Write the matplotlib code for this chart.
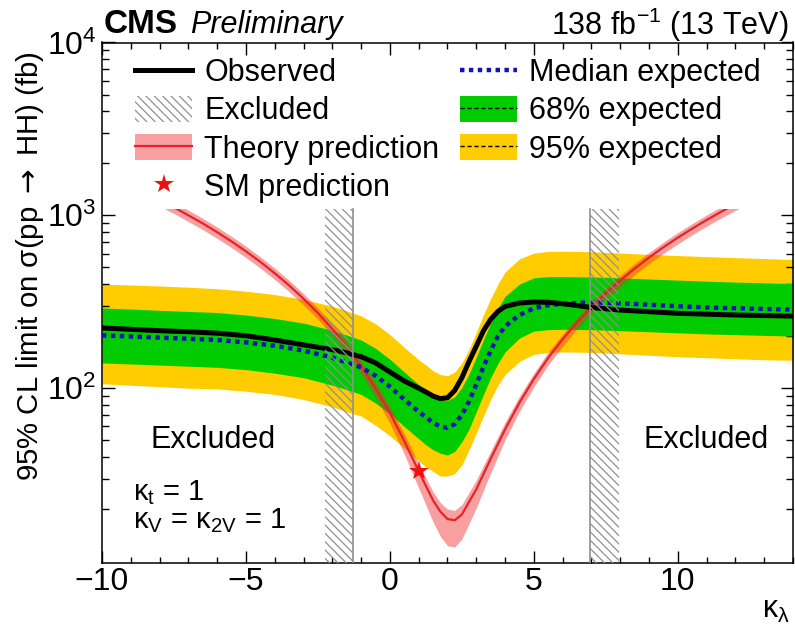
import numpy as np
import matplotlib
matplotlib.use('Agg')
import matplotlib.pyplot as plt
from matplotlib.patches import Patch, Rectangle
from matplotlib.lines import Line2D
from matplotlib.ticker import FixedLocator, NullFormatter, LogFormatterMathtext, MultipleLocator

plt.rcParams['font.family'] = ['Liberation Sans', 'DejaVu Sans']
plt.rcParams['mathtext.fontset'] = 'custom'
plt.rcParams['mathtext.rm'] = 'Liberation Sans'
plt.rcParams['mathtext.it'] = 'Liberation Sans:italic'
plt.rcParams['mathtext.bf'] = 'Liberation Sans:bold'
plt.rcParams['mathtext.sf'] = 'DejaVu Sans'
plt.rcParams['hatch.linewidth'] = 0.9
plt.rcParams['axes.unicode_minus'] = True

# ---------------- data ----------------
kl = [-10, -9, -8, -7, -6, -5, -4, -3, -2, -1.5, -1, -0.5, 0, 0.5, 1, 1.25, 1.5, 1.75,
      2, 2.25, 2.5, 2.75, 3, 3.25, 3.5, 3.75, 4, 4.5, 5, 5.5, 6, 7, 8, 9, 10, 11, 12, 13, 14]
obs = [223, 219, 215, 212, 208, 201, 190, 178, 167, 160, 152, 140, 124, 110, 100, 95, 90, 87,
       88, 97, 115, 143, 175, 215, 250, 278, 297, 311, 315, 314, 308, 293, 283, 277, 271, 268, 265, 263, 261]
exp_med = [202, 199, 196, 193, 190, 184, 176, 165, 150, 141, 132, 118, 102, 86, 73, 68, 63, 60,
           59, 62, 70, 84, 105, 133, 165, 200, 228, 265, 290, 302, 308, 314, 310, 304, 298, 293, 290, 287, 285]
exp_p1 = [291, 287, 282, 278, 274, 265, 253, 238, 216, 203, 190, 170, 147, 124, 105, 98, 91, 86,
          85, 89, 101, 121, 151, 191, 238, 290, 340, 400, 435, 442, 442, 440, 435, 428, 422, 416, 411, 407, 403]
exp_m1 = [140, 138, 136, 134, 132, 128, 122, 115, 104, 98, 92, 82, 71, 60, 51, 47, 44, 42,
          41, 43, 49, 58, 73, 92, 115, 139, 162, 195, 214, 218, 219, 218, 215, 212, 209, 206, 204, 202, 200]
exp_p2 = [400, 395, 390, 384, 376, 364, 348, 326, 298, 280, 262, 236, 204, 172, 146, 136, 126, 120,
          118, 124, 140, 168, 210, 266, 330, 400, 470, 560, 605, 618, 620, 616, 605, 594, 585, 577, 569, 562, 555]
exp_m2 = [106, 104, 102, 100, 99, 96, 92, 86, 78, 73, 69, 61, 53, 45, 38, 35, 33, 31,
          31, 32, 36, 44, 55, 69, 86, 104, 120, 143, 157, 161, 162, 161, 158, 155, 152, 150, 148, 146, 145]

kl_th = [-8, -7.5, -7, -6.5, -6, -5.5, -5, -4.5, -4, -3.5, -3, -2.5, -2, -1.5, -1, -0.5, 0, 0.5,
         1, 1.5, 1.75, 2, 2.25, 2.5, 3, 3.5, 4, 4.5, 5, 5.5, 6, 6.5, 7, 7.5, 8, 8.5, 9, 9.5,
         10, 10.5, 11, 11.5, 12, 12.5]
theory = [1230, 1113, 1000, 898, 799, 706, 619, 538, 462, 393, 329, 272, 220, 174, 134, 100, 72, 49.4,
          33.0, 22.4, 19.3, 17.5, 17.2, 18.6, 26.0, 39.0, 57.8, 82.5, 113, 150, 192, 240, 294, 355, 420, 492, 570, 654,
          743, 838, 940, 1047, 1160, 1279]
theory_up_pct = [7, 7, 7, 7, 7, 7, 7, 7, 7, 7, 7, 7, 7, 7, 7, 8, 9, 10,
                 11, 12, 13, 14, 14, 14, 13, 11, 10, 9, 8, 8, 7, 7, 7, 7, 7, 7, 7, 7,
                 7, 7, 7, 7, 7, 7]
theory_dn_pct = [8, 8, 8, 8, 8, 8, 8, 8, 8, 8, 8, 8, 8, 9, 10, 11, 13, 16,
                 20, 25, 28, 30, 30, 28, 22, 17, 13, 11, 10, 9, 9, 8, 8, 8, 8, 8, 8, 8,
                 8, 8, 8, 8, 8, 8]
theory_max = 1085

sm_kl = [1.0]
sm_xs = [33.0]

excl_edges = [-1.27, 6.95]     # kappa_lambda where observed limit meets theory
excl_side = [-1, 1]            # direction of excluded region

# ---------------- style ----------------
c_yellow = '#ffcc00'
c_green = '#00cc00'
c_blue = '#1414b4'
c_red = '#e8222a'
c_red_band = (0.94, 0.18, 0.18, 0.45)
c_hatch = '#909090'

W, H = 795, 634
fig = plt.figure(figsize=(W / 100, H / 100), dpi=100)
L, R, T, B = 102, 793, 42.5, 562.5
ax = fig.add_axes([L / W, 1 - B / H, (R - L) / W, (B - T) / H])


def fx(x):
    return x / W


def fy(y):
    return 1 - y / H


kl_a = np.array(kl, dtype=float)
ax.fill_between(kl_a, exp_m2, exp_p2, color=c_yellow, lw=0, zorder=1)
ax.fill_between(kl_a, exp_m1, exp_p1, color=c_green, lw=0, zorder=2)

th = np.array(theory, dtype=float)
th_up = th * (1 + np.array(theory_up_pct) / 100.0)
th_dn = th * (1 - np.array(theory_dn_pct) / 100.0)
clip = Rectangle((-10, 1), 24, theory_max - 1, transform=ax.transData)
band = ax.fill_between(kl_th, th_dn, th_up, color=c_red_band, lw=0, zorder=3)
band.set_clip_path(clip)
tl, = ax.plot(kl_th, th, color=c_red, lw=1.6, zorder=4)
tl.set_clip_path(clip)

ax.plot(kl_a, exp_med, color=c_blue, lw=3.2, linestyle=(0, (1, 1)), zorder=5)
ax.plot(kl_a, obs, color='black', lw=3.6, zorder=6, solid_capstyle='butt')

for e, s in zip(excl_edges, excl_side):
    x0 = e if s > 0 else e - 1.0
    ax.add_patch(Rectangle((x0, 1), 1.0, theory_max - 1, facecolor='none', edgecolor=c_hatch,
                           hatch='\\\\\\\\', lw=0, zorder=7))
    ax.plot([e, e], [1, theory_max], color=c_hatch, lw=1.2, zorder=7)

ax.plot(sm_kl, sm_xs, linestyle='none', marker='*', color='#ee1111', markersize=15,
        markeredgewidth=0, zorder=8)

# axes
ax.set_xlim(-10, 14)
ax.set_yscale('log')
ax.set_ylim(9.8, 1e4)
ax.xaxis.set_major_locator(MultipleLocator(5))
ax.xaxis.set_minor_locator(MultipleLocator(1))
ax.yaxis.set_major_locator(FixedLocator([1e2, 1e3, 1e4]))
ax.yaxis.set_major_formatter(LogFormatterMathtext())
ax.yaxis.set_minor_locator(FixedLocator([m * 10 ** d for d in (1, 2, 3) for m in range(2, 10)]))
ax.yaxis.set_minor_formatter(NullFormatter())
ax.tick_params(which='both', direction='in', top=True, right=True, width=1.0, labelsize=23)
ax.tick_params(axis='x', which='major', length=8.6, pad=3)
ax.tick_params(axis='x', which='minor', length=4.3)
ax.tick_params(axis='y', which='major', length=9, pad=4)
ax.tick_params(axis='y', which='minor', length=5)
for sp in ax.spines.values():
    sp.set_linewidth(1.1)

# texts
fig.text(fx(30), fy(266), r'95% CL limit on σ(pp $\mathsf{\rightarrow}$ HH) (fb)', rotation=90,
         ha='center', va='center', fontsize=21.2)
fig.text(fx(790), fy(618), r'κ$_{\mathrm{\lambda}}$', ha='right', va='baseline', fontsize=22)
fig.text(fx(104), fy(33), 'CMS', fontweight='bold', fontsize=24, ha='left', va='baseline')
fig.text(fx(190), fy(33), 'Preliminary', fontstyle='italic', fontsize=22, ha='left', va='baseline')
fig.text(fx(789), fy(35), r'138 fb$^{\mathregular{-1}}$ (13 TeV)', fontsize=22, ha='right', va='baseline')
fig.text(fx(213), fy(448), 'Excluded', fontsize=22, ha='center', va='baseline')
fig.text(fx(706), fy(448), 'Excluded', fontsize=22, ha='center', va='baseline')
fig.text(fx(133), fy(528), 'κ$_{\\mathrm{t}}$ = 1\nκ$_{\\mathrm{V}}$ = κ$_{\\mathrm{2V}}$ = 1', fontsize=21,
         ha='left', va='baseline', linespacing=0.95)

# legends
h_obs = Line2D([], [], color='black', lw=3.6)
h_exc = Patch(facecolor='none', edgecolor=c_hatch, hatch='\\\\\\\\', lw=0)
h_th = (Patch(facecolor=c_red_band, lw=0), Line2D([], [], color=c_red, lw=1.6))
h_sm = Line2D([], [], linestyle='none', marker='*', color='#ee1111', markersize=15, markeredgewidth=0)
h_med = Line2D([], [], color=c_blue, lw=3.2, linestyle=(0, (1, 1)))
h_68 = (Patch(facecolor=c_green, lw=0), Line2D([], [], color='black', lw=1.0, linestyle=(0, (3, 2))))
h_95 = (Patch(facecolor=c_yellow, lw=0), Line2D([], [], color='black', lw=1.0, linestyle=(0, (3, 2))))

common = dict(frameon=False, fontsize=22, borderpad=0, borderaxespad=0, handlelength=1.87,
              handleheight=0.9, handletextpad=0.4, labelspacing=0.26)
leg1 = fig.legend([h_obs, h_exc, h_th, h_sm],
                  ['Observed', 'Excluded', 'Theory prediction', 'SM prediction'],
                  loc='upper left', bbox_to_anchor=(fx(135), fy(58)), **common)
leg2 = fig.legend([h_med, h_68, h_95],
                  ['Median expected', '68% expected', '95% expected'],
                  loc='upper left', bbox_to_anchor=(fx(460), fy(58)), **common)

fig.savefig('out.png', dpi=100)
